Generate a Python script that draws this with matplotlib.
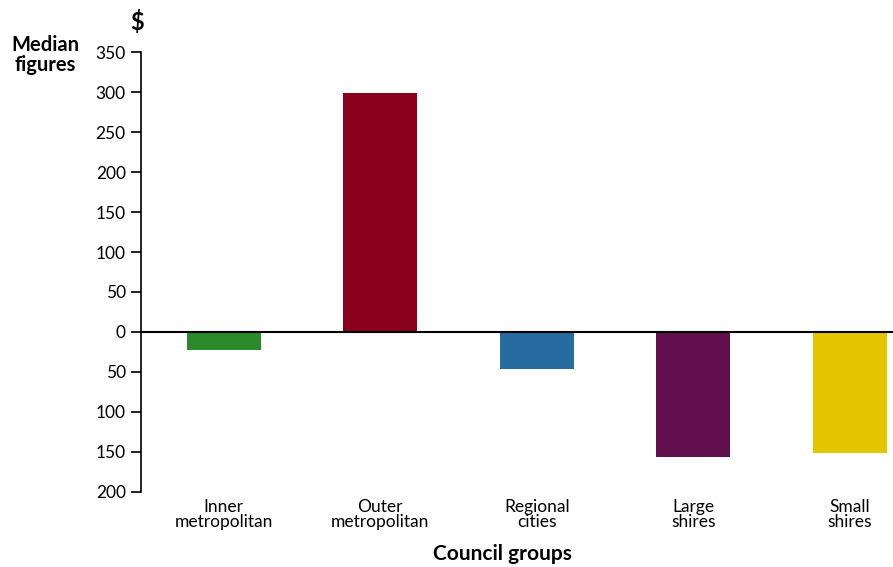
import matplotlib.pyplot as plt
import numpy as np

# data
groups = ['Inner\nmetropolitan', 'Outer\nmetropolitan', 'Regional\ncities', 'Large\nshires', 'Small\nshires']
medians = [-23, 299, -47, -157, -152]
colours = ['#2a8a2a', '#8b001e', '#276ca0', '#620f4e', '#e3c500']
y_ticks = [-200, -150, -100, -50, 0, 50, 100, 150, 200, 250, 300, 350]

plt.rcParams['font.family'] = ['Lato', 'DejaVu Sans']

fig = plt.figure(figsize=(8.93, 5.67), dpi=100)
ax = fig.add_axes([0.158, 0.133, 0.842, 0.7746])

x = np.arange(len(groups))
ax.bar(x, medians, width=0.473, color=colours, zorder=2)
ax.axhline(0, color='black', lw=1.5, zorder=3)

ax.set_xlim(-0.529, 4.276)
ax.set_ylim(-200, 350)
ax.set_yticks(y_ticks)
ax.set_yticklabels([str(abs(v)) for v in y_ticks], fontsize=12.5)
ax.tick_params(axis='y', length=7, width=1.2, pad=4, direction='out')

ax.set_xticks(x)
ax.set_xticklabels(groups, fontsize=12.5, linespacing=0.95)
ax.tick_params(axis='x', length=0, pad=0)
for lab in ax.get_xticklabels():
    lab.set_y(-0.017)

for s in ['top', 'right', 'bottom']:
    ax.spines[s].set_visible(False)
ax.spines['left'].set_linewidth(1.2)

fig.text(45 / 893, 1 - 55 / 567, 'Median\nfigures', ha='center', va='center',
         fontsize=14.5, fontweight='bold', linespacing=0.95)
fig.text(137 / 893, 1 - 22 / 567, '$', ha='center', va='center',
         fontsize=17, fontweight='bold')
fig.text(502 / 893, 1 - 554 / 567, 'Council groups', ha='center', va='center',
         fontsize=15, fontweight='bold')

fig.savefig('out.png', dpi=100)
